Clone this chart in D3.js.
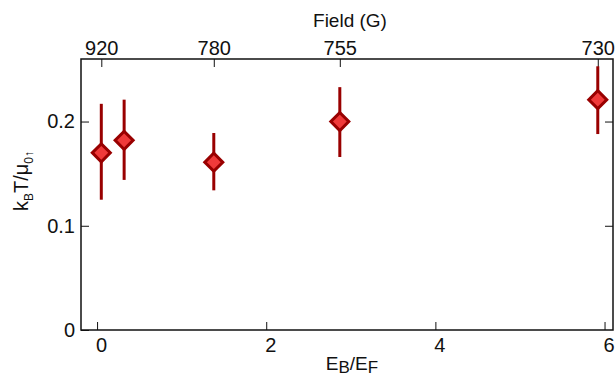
<!DOCTYPE html>
<html>
<head>
<meta charset="utf-8">
<script src="https://cdn.jsdelivr.net/npm/d3@7"></script>
<style>
  body { margin: 0; background: #fff; }
  svg { display: block; font-family: "Liberation Sans", Arial, sans-serif; }
  .tick text { font-size: 20px; fill: #111; }
</style>
</head>
<body>
<div id="chart"></div>
<script>
// data
let ebef = [0.05, 0.32, 1.38, 2.87, 5.92];          // E_B/E_F
let kT = [0.170, 0.182, 0.161, 0.200, 0.221];        // k_B T / mu
let errTop = [0.217, 0.221, 0.189, 0.233, 0.253];
let errBottom = [0.125, 0.144, 0.134, 0.166, 0.188];

// top axis: magnetic field at some of the points
let fieldTickE = [0.05, 1.38, 2.87, 5.92];
let fieldLabels = ['920', '780', '755', '730'];

let xTicks = [0, 2, 4, 6];
let yTicks = [0, 0.1, 0.2];
let yTickLabels = ['0', '0.1', '0.2'];

let W = 615, H = 378;
let margin = {top: 59, right: 2, bottom: 48, left: 81};
let width = W - margin.left - margin.right;
let height = H - margin.top - margin.bottom;

let xScale = d3.scaleLinear().domain([-0.19, 6.1]).range([0, width]);
let yScale = d3.scaleLinear().domain([0, 0.26]).range([height, 0]);

let svg = d3.select('#chart').append('svg')
  .attr('width', W)
  .attr('height', H)
  .append('g')
  .attr('transform', 'translate(' + margin.left + ',' + margin.top + ')');

// axes (ticks point inward)
let xAxis = d3.axisBottom(xScale).tickValues(xTicks).tickSizeInner(-8).tickSizeOuter(0).tickPadding(8)
  .tickFormat(d3.format('d'));
let topAxis = d3.axisTop(xScale).tickValues(fieldTickE).tickSizeInner(-8).tickSizeOuter(0).tickPadding(4)
  .tickFormat(function(d, i) { return fieldLabels[i]; });
let yAxis = d3.axisLeft(yScale).tickValues(yTicks).tickSizeInner(-8).tickSizeOuter(0).tickPadding(6)
  .tickFormat(function(d, i) { return yTickLabels[i]; });
let rightAxis = d3.axisRight(yScale).tickValues(yTicks.slice(1)).tickSizeInner(-8).tickSizeOuter(0)
  .tickFormat('');

let gx = svg.append('g').attr('transform', 'translate(0,' + height + ')').call(xAxis);
gx.selectAll('.tick text').attr('dx', '0.2em');
svg.append('g').call(topAxis);
svg.append('g').call(yAxis);
svg.append('g').attr('transform', 'translate(' + width + ',0)').call(rightAxis);
svg.selectAll('.domain').remove();
svg.selectAll('.tick line').attr('stroke', '#111').attr('stroke-width', 1);

// frame
svg.append('rect')
  .attr('x', 0).attr('y', 0)
  .attr('width', width).attr('height', height)
  .attr('fill', 'none')
  .attr('stroke', '#111')
  .attr('stroke-width', 1.5);

// error bars
svg.selectAll('.err')
  .data(ebef)
  .enter().append('line')
  .attr('class', 'err')
  .attr('x1', function(d) { return xScale(d); })
  .attr('x2', function(d) { return xScale(d); })
  .attr('y1', function(d, i) { return yScale(errTop[i]); })
  .attr('y2', function(d, i) { return yScale(errBottom[i]); })
  .attr('stroke', '#990000')
  .attr('stroke-width', 3);

// diamonds
let diamond = d3.symbol().type(d3.symbolSquare).size(162);
svg.selectAll('.dot')
  .data(ebef)
  .enter().append('path')
  .attr('class', 'dot')
  .attr('d', diamond)
  .attr('transform', function(d, i) {
    return 'translate(' + xScale(d) + ',' + yScale(kT[i]) + ') rotate(45)';
  })
  .attr('fill', '#f03a3a')
  .attr('stroke', '#990000')
  .attr('stroke-width', 3);

// axis titles
svg.append('text')
  .attr('x', 269)
  .attr('y', 27 - margin.top)
  .attr('text-anchor', 'middle')
  .attr('font-size', 19)
  .attr('fill', '#111')
  .text('Field (G)');

let xl = svg.append('text')
  .attr('x', 271)
  .attr('y', 370 - margin.top)
  .attr('text-anchor', 'middle')
  .attr('font-size', 19)
  .attr('fill', '#111');
xl.append('tspan').text('E');
xl.append('tspan').attr('font-size', 17).attr('dy', 3).text('B');
xl.append('tspan').attr('dy', -3).text('/E');
xl.append('tspan').attr('font-size', 17).attr('dy', 3).text('F');

let yl = svg.append('text')
  .attr('transform', 'translate(' + (28 - margin.left) + ',' + (181 - margin.top) + ') rotate(-90)')
  .attr('text-anchor', 'middle')
  .attr('font-size', 20)
  .attr('fill', '#111');
yl.append('tspan').text('k');
yl.append('tspan').attr('font-size', 12).attr('dy', 5).text('B');
yl.append('tspan').attr('dy', -5).text('T/μ');
yl.append('tspan').attr('font-size', 12).attr('dy', 5).text('0↑');
</script>
</body>
</html>
